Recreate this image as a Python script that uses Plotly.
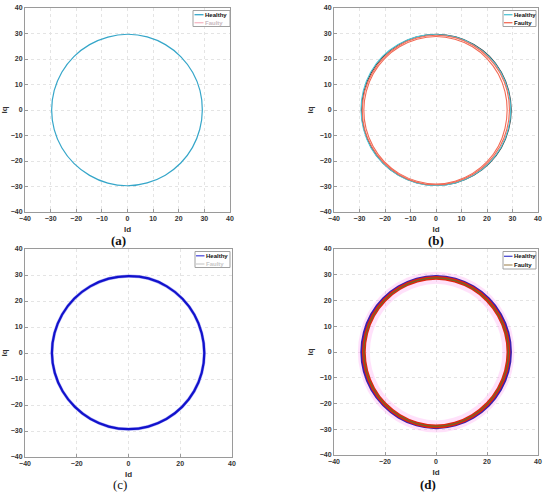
import numpy as np
import plotly.graph_objects as go

# ---------------- data ----------------
ANGLES_DEG = [0, 15, 30, 45, 60, 75, 90, 105, 120, 135, 150, 165, 180,
              195, 210, 225, 240, 255, 270, 285, 300, 315, 330, 345, 360]

# (a) healthy trajectory radius per angle
A_HEALTHY_R = [29.2, 29.3, 29.4, 29.5, 29.6, 29.7, 29.7, 29.6, 29.6, 29.6, 29.6, 29.6, 29.6,
               29.6, 29.6, 29.6, 29.6, 29.7, 29.7, 29.6, 29.5, 29.4, 29.3, 29.2, 29.2]

# (b) healthy (two overlaid traces) and faulty (two traces)
B_HEALTHY_CYAN_R = [29.3, 29.3, 29.4, 29.5, 29.5, 29.6, 29.6, 29.7, 29.7, 29.7, 29.6, 29.5, 29.4,
                    29.4, 29.5, 29.5, 29.6, 29.6, 29.6, 29.6, 29.5, 29.4, 29.4, 29.3, 29.3]
B_HEALTHY_DARK_R = [29.5, 29.5, 29.6, 29.7, 29.7, 29.7, 29.7, 29.6, 29.5, 29.4, 29.3, 29.2, 29.2,
                    29.2, 29.3, 29.4, 29.5, 29.5, 29.5, 29.6, 29.6, 29.6, 29.6, 29.5, 29.5]
B_FAULTY_OUTER_R = [28.8, 28.9, 29.0, 29.1, 29.2, 29.3, 29.3, 29.2, 29.1, 29.0, 28.9, 28.9, 28.9,
                    29.0, 29.0, 29.1, 29.2, 29.3, 29.3, 29.2, 29.1, 29.0, 28.9, 28.8, 28.8]
B_FAULTY_INNER_R = [27.9, 28.0, 28.2, 28.4, 28.6, 28.7, 28.8, 28.7, 28.6, 28.5, 28.4, 28.3, 28.3,
                    28.4, 28.5, 28.7, 28.8, 28.9, 29.0, 28.9, 28.7, 28.5, 28.3, 28.0, 27.9]

# (c) healthy (noisy) trajectory
C_HEALTHY_R = [29.3, 29.3, 29.4, 29.5, 29.6, 29.7, 29.6, 29.6, 29.6, 29.6, 29.6, 29.6, 29.6,
               29.5, 29.4, 29.3, 29.3, 29.3, 29.3, 29.3, 29.3, 29.3, 29.3, 29.3, 29.3]

# (d) healthy and faulty (noisy) trajectories
D_HEALTHY_R = [29.0, 29.0, 29.0, 29.0, 29.0, 29.1, 29.1, 29.1, 29.0, 29.0, 29.0, 28.9, 28.9,
               28.9, 28.9, 28.9, 29.0, 29.1, 29.2, 29.1, 29.0, 29.0, 29.0, 29.0, 29.0]
D_FAULTY_R = [28.4, 28.4, 28.4, 28.5, 28.6, 28.7, 28.8, 28.7, 28.6, 28.5, 28.4, 28.3, 28.3,
              28.3, 28.4, 28.5, 28.6, 28.8, 28.9, 28.8, 28.6, 28.5, 28.4, 28.4, 28.4]

AXIS_RANGE = [-40, 40]
TICKS_10 = [-40, -30, -20, -10, 0, 10, 20, 30, 40]
TICKS_20 = [-40, -20, 0, 20, 40]
PANEL_LABELS = ["(a)", "(b)", "(c)", "(d)"]
LEGEND_NAMES = ["Healthy", "Faulty"]

# ---------------- helpers ----------------
W, H = 550, 493
TH = np.deg2rad(np.array(ANGLES_DEG, dtype=float))


def xy(r):
    r = np.asarray(r, dtype=float)
    return r * np.cos(TH), r * np.sin(TH)


def px(x):
    return x / W


def py(y):
    return 1 - y / H


fig = go.Figure()

# panel pixel boxes: (left, right, top, bottom)
boxes = {
    1: (25, 230, 8, 212),
    2: (334, 538, 8, 212),
    3: (25, 232, 249, 457),
    4: (334, 538, 249, 455),
}


def add_line(r, color, width, axis, opacity=1.0):
    x, y = xy(r)
    fig.add_trace(go.Scatter(
        x=x, y=y, mode="lines", line=dict(color=color, width=width, shape="spline", smoothing=1.0),
        opacity=opacity, showlegend=False, hoverinfo="skip",
        xaxis="x" if axis == 1 else f"x{axis}", yaxis="y" if axis == 1 else f"y{axis}"))


# (a)
add_line(A_HEALTHY_R, "#35a6c9", 1.2, 1)
# (b)
add_line(B_HEALTHY_DARK_R, "#3a3a3a", 1.1, 2)
add_line(B_HEALTHY_CYAN_R, "#4fc3d4", 1.1, 2)
add_line(B_FAULTY_OUTER_R, "#f26a55", 1.1, 2)
add_line(B_FAULTY_INNER_R, "#f26a55", 1.1, 2)
# (c)
add_line(C_HEALTHY_R, "#7777ee", 3.2, 3, opacity=0.6)
add_line(C_HEALTHY_R, "#1212cc", 2.2, 3)
# (d)
add_line(D_FAULTY_R, "#ff9cf0", 12, 4, opacity=0.3)
add_line(D_HEALTHY_R, "#3b1fb0", 4.0, 4)
add_line(D_FAULTY_R, "#e0240f", 3.8, 4)
add_line(D_FAULTY_R, "#6d6a28", 1.2, 4)

axis_common = dict(
    range=AXIS_RANGE, showgrid=True, gridcolor="#e4e4e4", griddash="dot", gridwidth=1,
    zeroline=False, showline=True, mirror=True, linecolor="#9a9a9a", linewidth=1,
    ticks="inside", ticklen=3, tickcolor="#9a9a9a", automargin=False,
    tickfont=dict(family="Liberation Sans", size=7, color="#333333", weight="bold"),
    title_font=dict(family="Liberation Sans", size=8, color="#333333", weight="bold"),
    fixedrange=True,
)

layout = dict(width=W, height=H, margin=dict(l=0, r=0, t=0, b=0, autoexpand=False),
              template="none",
              paper_bgcolor="white", plot_bgcolor="white", showlegend=False)

for i, (l, r, t, b) in boxes.items():
    xs = "xaxis" if i == 1 else f"xaxis{i}"
    ys = "yaxis" if i == 1 else f"yaxis{i}"
    xt = TICKS_10 if i in (1, 2) else TICKS_20
    layout[xs] = dict(axis_common, domain=[px(l), px(r)], tickvals=xt,
                      anchor="y" if i == 1 else f"y{i}",
                      title=dict(text="Id", standoff=4))
    layout[ys] = dict(axis_common, domain=[py(b), py(t)], tickvals=TICKS_10,
                      anchor="x" if i == 1 else f"x{i}",
                      title=dict(text="Iq", standoff=4))

fig.update_layout(**layout)

# ---------------- manual legends ----------------
legends = {
    1: dict(box=(193, 230, 10.5, 26.5), rows=(14.7, 22.7), line=(194.5, 203.5),
            colors=("#35a6c9", "#f6b8c4"), tcolors=("#111111", "#c9b9c0")),
    2: dict(box=(503, 536, 10.5, 26.5), rows=(14.7, 22.7), line=(504, 512.5),
            colors=("#4fc3d4", "#f26a55"), tcolors=("#111111", "#111111")),
    3: dict(box=(195, 230, 251.5, 267.5), rows=(255.8, 264), line=(196, 204.5),
            colors=("#5050dd", "#d0d0d0"), tcolors=("#111111", "#c8c8c8")),
    4: dict(box=(503, 536, 251.5, 269), rows=(256.3, 265), line=(504, 512.5),
            colors=("#4a4ad0", "#b09a70"), tcolors=("#111111", "#111111")),
}

shapes = []
annotations = []
for i, lg in legends.items():
    l, r, t, b = lg["box"]
    shapes.append(dict(type="rect", xref="paper", yref="paper",
                       x0=px(l), x1=px(r), y0=py(b), y1=py(t),
                       line=dict(color="#a0a0a0", width=1), fillcolor="white", layer="above"))
    for name, yy, col, tcol in zip(LEGEND_NAMES, lg["rows"], lg["colors"], lg["tcolors"]):
        shapes.append(dict(type="line", xref="paper", yref="paper",
                           x0=px(lg["line"][0]), x1=px(lg["line"][1]), y0=py(yy), y1=py(yy),
                           line=dict(color=col, width=1.3), layer="above"))
        annotations.append(dict(text=name, xref="paper", yref="paper",
                                x=px(lg["line"][1]), y=py(yy), xanchor="left", yanchor="middle",
                                showarrow=False, borderpad=0,
                                font=dict(family="Liberation Sans", size=6, color=tcol, weight="bold")))

# panel captions
caption_pos = {1: (118, 240), 2: (436, 240), 3: (120, 484), 4: (428, 484)}
for i, lab in zip([1, 2, 3, 4], PANEL_LABELS):
    cx, cy = caption_pos[i]
    annotations.append(dict(text=lab, xref="paper", yref="paper", x=px(cx), y=py(cy),
                            xanchor="center", yanchor="middle", showarrow=False, borderpad=0,
                            font=dict(family="Liberation Serif", size=13, color="#111111",
                                      weight="normal" if i == 3 else "bold")))

fig.update_layout(shapes=shapes, annotations=annotations)

fig.write_html("out.html", config={"displayModeBar": False, "staticPlot": True},
               post_script="document.body.style.margin='0px';document.body.style.overflow='hidden';")
